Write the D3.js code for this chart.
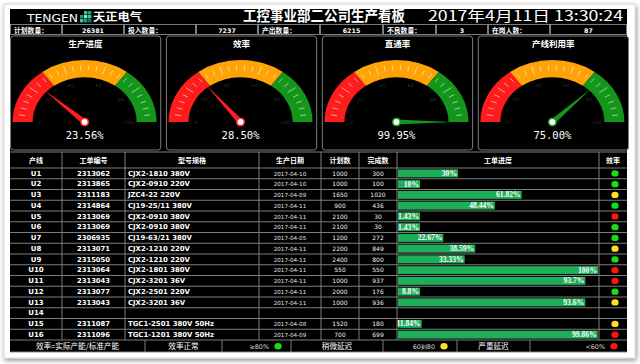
<!DOCTYPE html>
<html>
<head>
<meta charset="utf-8">
<style>
body { margin:0; background:#fff; }
svg { display:block; }
.cjk { font-family:"Noto Sans CJK SC", sans-serif; }
</style>
</head>
<body>
<svg width="640" height="364"></svg>
<script src="https://cdn.jsdelivr.net/npm/d3@7"></script>
<script>
// 看板数据
var statLabels = ["计划数量：", "投入数量：", "产出数量：", "不良数量：", "在岗人数："];
var statValues = [26381, 7237, 6215, 3, 87];

var gaugeNames = ["生产进度", "效率", "直通率", "产线利用率"];
var gaugeValues = [23.56, 28.50, 99.95, 75.00];
var zoneStops = [30, 70, 100];
var zoneColors = ["#ff1c1c", "#ffa306", "#13961a"];
var gaugeTicks = [0, 20, 40, 60, 80, 100];

var lines = ["U1","U2","U3","U4","U5","U6","U7","U8","U9","U10","U11","U12","U13","U14","U15","U16"];
var orders = ["2313062","2313865","2311183","2314864","2313069","2313069","2306935","2313071","2315050","2313064","2313043","2313077","2313043","","2311087","2311096"];
var models = ["CJX2-1810 380V","CJX2-0910 220V","JZC4-22 220V","CJ19-25/11 380V","CJX2-0910 380V","CJX2-0910 380V","CJ19-63/21 380V","CJX2-1210 220V","CJX2-1210 220V","CJX2-1801 380V","CJX2-3201 36V","CJX2-2501 220V","CJX2-3201 36V","","TGC1-2501 380V 50Hz","TGC1-1201 380V 50Hz"];
var dates = ["2017-04-10","2017-04-10","2017-04-09","2017-04-11","2017-04-11","2017-04-11","2017-04-05","2017-04-11","2017-04-11","2017-04-11","2017-04-11","2017-04-11","2017-04-11","","2017-04-08","2017-04-09"];
var plans = ["1000","1000","1650","900","2100","2100","1200","2200","2400","550","1000","2000","1000","","1520","700"];
var dones = ["300","100","1020","436","30","30","272","849","800","550","937","176","936","","180","699"];
var progress = [30, 10, 61.82, 48.44, 1.43, 1.43, 22.67, 38.59, 33.33, 100, 93.7, 8.8, 93.6, null, 11.84, 99.86];
var effStatus = ["ok","ok","mid","ok","bad","ok","ok","mid","ok","bad","bad","ok","mid",null,"mid","bad"];

var headers = ["产线","工单编号","型号规格","生产日期","计划数","完成数","工单进度","效率"];
var colEdges = [10, 62, 125, 259, 321, 359, 397, 599, 627];
var statusColor = {ok:"#14e01a", mid:"#ffe01a", bad:"#ff1414"};

var svg = d3.select("svg");
var grid = "#8a8a8a";

// 外框与黑底
var defs = svg.append("defs");
var f = defs.append("filter").attr("id","sh").attr("x",-0.05).attr("y",-0.05).attr("width",1.1).attr("height",1.1);
f.append("feGaussianBlur").attr("in","SourceAlpha").attr("stdDeviation",2.5);
f.append("feOffset").attr("dx",1).attr("dy",1.5).attr("result","b");
f.append("feComponentTransfer").append("feFuncA").attr("type","linear").attr("slope",0.45);
var fm = f.append("feMerge"); fm.append("feMergeNode"); fm.append("feMergeNode").attr("in","SourceGraphic");

svg.append("rect").attr("x",4).attr("y",4).attr("width",631).attr("height",354)
  .attr("fill","#fff").attr("stroke","#d8d8d8").attr("filter","url(#sh)");
svg.append("rect").attr("x",10).attr("y",9).attr("width",617).attr("height",343).attr("fill","#000");

// 标题行
svg.append("text").attr("x",27).attr("y",21.5).attr("fill","#fff")
  .style("font-family","DejaVu Sans").style("font-size","11px")
  .attr("textLength",51).attr("lengthAdjust","spacingAndGlyphs").text("TENGEN");
var logo = svg.append("g").attr("transform","translate(80,11)");
[[4,0,"#2fc7a8"],[8,0,"#1fa070"],[0,4,"#1fa070"],[4,4,"#8ee8d0"],[8,4,"#2fc7a8"],[0,8,"#2fc7a8"],[4,8,"#1fa070"],[8,8,"#0d7d50"]]
  .forEach(function(s){ logo.append("rect").attr("x",s[0]).attr("y",s[1]).attr("width",3.4).attr("height",3.4).attr("fill",s[2]); });
svg.append("text").attr("class","cjk").attr("x",93).attr("y",21.2).attr("fill","#fff")
  .style("font-size","11px").style("font-weight","bold")
  .attr("textLength",49).attr("lengthAdjust","spacingAndGlyphs").text("天正电气");
svg.append("text").attr("class","cjk").attr("x",243).attr("y",20.8).attr("fill","#fff")
  .style("font-size","14.5px").style("font-weight","bold")
  .attr("textLength",162).attr("lengthAdjust","spacingAndGlyphs").text("工控事业部二公司生产看板");
svg.append("text").attr("class","cjk").attr("x",428).attr("y",20.8).attr("fill","#fff")
  .style("font-size","14px")
  .attr("textLength",195).attr("lengthAdjust","spacingAndGlyphs").text("2017年4月11日 13:30:24");

// 统计行
var statEdges = [10, 62, 124, 196, 258, 320, 383, 436, 488, 550, 627];
var statCells = [];
statLabels.forEach(function(l,i){ statCells.push({t:l, cjk:true}); statCells.push({t:String(statValues[i]), cjk:false}); });
var sg = svg.append("g");
sg.selectAll("rect").data(statCells).enter().append("rect")
  .attr("x",function(d,i){ return statEdges[i]+0.5; }).attr("y",24.5)
  .attr("width",function(d,i){ return statEdges[i+1]-statEdges[i]-1; }).attr("height",10)
  .attr("fill","#000").attr("stroke","#9a9a9a").attr("stroke-width",0.8);
sg.selectAll("text").data(statCells).enter().append("text")
  .attr("x",function(d,i){ return d.cjk ? statEdges[i]+4 : (statEdges[i]+statEdges[i+1])/2; })
  .attr("y",32.8).attr("text-anchor",function(d){ return d.cjk ? "start" : "middle"; })
  .attr("fill","#fff").style("font-weight","bold")
  .style("font-family",function(d){ return d.cjk ? "Noto Sans CJK SC" : "DejaVu Sans"; })
  .style("font-size",function(d){ return d.cjk ? "6.8px" : "6.3px"; })
  .text(function(d){ return d.t; });

// 仪表盘
var px = d3.scaleBand().domain(gaugeNames).range([10, 629]).paddingInner(0.03);
var ang = d3.scaleLinear().domain([0,100]).range([-Math.PI/2, Math.PI/2]);
var rOut = 72, rIn = 52, yS = 0.86, cy = 122;
function zoneOf(v){ for (var k=0;k<zoneStops.length;k++){ if (v<=zoneStops[k]) return k; } return zoneStops.length-1; }

gaugeNames.forEach(function(name, gi){
  var x0 = px(name), bw = px.bandwidth();
  var g = svg.append("g");
  g.append("rect").attr("x",x0+0.5).attr("y",36).attr("width",bw-1).attr("height",114)
    .attr("rx",3).attr("fill","#000").attr("stroke","#7a7a7a").attr("stroke-width",1);
  g.append("text").attr("class","cjk").attr("x",x0+bw/2).attr("y",46.5).attr("text-anchor","middle")
    .attr("fill","#fff").style("font-size","8.5px").style("font-weight","bold").text(name);

  var cx = x0 + bw/2 - 1;
  var gg = g.append("g").attr("transform","translate("+cx+","+cy+") scale(1,"+yS+")");
  var prev = 0;
  zoneStops.forEach(function(s,k){
    gg.append("path").attr("d", d3.arc().innerRadius(rIn).outerRadius(rOut)
      .startAngle(ang(prev)).endAngle(ang(s))()).attr("fill", zoneColors[k]);
    prev = s;
  });
  // 刻度
  d3.range(0, 101, 4).forEach(function(t){
    var a = ang(t), major = (t % 20 === 0);
    var r1 = major ? rIn+6 : rIn+8, r2 = major ? rOut-4 : rOut-6;
    if (t === 0 || t === 100) return;
    gg.append("line")
      .attr("x1",Math.sin(a)*r1).attr("y1",-Math.cos(a)*r1)
      .attr("x2",Math.sin(a)*r2).attr("y2",-Math.cos(a)*r2)
      .attr("stroke","#fff").attr("stroke-opacity",0.75).attr("stroke-width",0.8);
  });
  gaugeTicks.forEach(function(t){
    var a = ang(t), r = rIn - 7;
    gg.append("text").attr("x",Math.sin(a)*r).attr("y",-Math.cos(a)*r+2)
      .attr("text-anchor","middle").attr("fill","#2c2c2c")
      .style("font-family","DejaVu Sans").style("font-size","5px").text(t);
  });
  // 指针
  var v = gaugeValues[gi], a = ang(v), col = zoneColors[zoneOf(v)], L = 55, w = 3;
  var tip = [Math.sin(a)*L, -Math.cos(a)*L];
  var p1 = [Math.cos(a)*w, Math.sin(a)*w], p2 = [-Math.cos(a)*w, -Math.sin(a)*w];
  gg.append("path").attr("d","M"+p1+"L"+tip+"L"+p2+"Z").attr("fill",col);
  g.append("circle").attr("cx",cx).attr("cy",cy).attr("r",4.6).attr("fill",col);
  g.append("circle").attr("cx",cx).attr("cy",cy).attr("r",3).attr("fill","#fff");
  g.append("text").attr("x",cx).attr("y",138.5).attr("text-anchor","middle").attr("fill","#fff")
    .style("font-family","DejaVu Sans Mono").style("font-size","10.5px")
    .text(v.toFixed(2) + "%");
});

// 表格
var tTop = 152, hBottom = 168, tBottom = 340, fBottom = 352;
var y = d3.scaleBand().domain(lines).range([hBottom, tBottom]);
var xBar = d3.scaleLinear().domain([0,100]).range([colEdges[6]+1, colEdges[7]-1]);
var tg = svg.append("g");

// 表头
tg.selectAll("text.h").data(headers).enter().append("text").attr("class","h cjk")
  .attr("x",function(d,i){ return (colEdges[i]+colEdges[i+1])/2; }).attr("y",162.5)
  .attr("text-anchor","middle").attr("fill","#fff")
  .style("font-size","7px").style("font-weight","bold").text(function(d){ return d; });

// 进度条
var rows = lines.map(function(l,i){
  return {line:l, order:orders[i], model:models[i], date:dates[i], plan:plans[i], done:dones[i], pct:progress[i], eff:effStatus[i]};
});
var minW = 22;
var bars = tg.selectAll("g.bar").data(rows.filter(function(d){ return d.pct !== null; })).enter().append("g");
bars.append("rect")
  .attr("x",xBar(0)).attr("y",function(d){ return y(d.line)+1.4; })
  .attr("width",function(d){ return Math.max(xBar(d.pct)-xBar(0), minW); })
  .attr("height",y.bandwidth()-2.8).attr("fill","#1ead58");
bars.append("text")
  .attr("x",function(d){ return xBar(0) + Math.max(xBar(d.pct)-xBar(0), minW) - 1; })
  .attr("y",function(d){ return y(d.line)+y.bandwidth()/2+2.6; })
  .attr("text-anchor","end").attr("fill","#fff")
  .style("font-family","Liberation Serif").style("font-weight","bold").style("font-size","7.6px")
  .text(function(d){ return d.pct + "%"; });

// 单元格文字
function cell(key, col, opts){
  tg.selectAll("text."+key).data(rows).enter().append("text").attr("class",key)
    .attr("x", opts.left ? colEdges[col]+3 : (colEdges[col]+colEdges[col+1])/2)
    .attr("y", function(d){ return y(d.line)+y.bandwidth()/2+2.3; })
    .attr("text-anchor", opts.left ? "start" : "middle")
    .attr("fill", opts.color || "#fff")
    .style("font-family","DejaVu Sans").style("font-size", opts.size)
    .style("font-weight", opts.bold ? "bold" : "normal")
    .text(function(d){ return d[key]; });
}
cell("line", 0, {size:"7px", bold:true});
cell("order", 1, {size:"6.8px", bold:true});
cell("model", 2, {size:"6.9px", bold:true, left:true});
cell("date", 3, {size:"5.6px", color:"#e4e4e4"});
cell("plan", 4, {size:"6px", color:"#f0f0f0"});
cell("done", 5, {size:"6px", color:"#f0f0f0"});
tg.selectAll("ellipse.eff").data(rows.filter(function(d){ return d.eff; })).enter().append("ellipse")
  .attr("cx",(colEdges[7]+colEdges[8])/2+2).attr("cy",function(d){ return y(d.line)+y.bandwidth()/2; })
  .attr("rx",3.6).attr("ry",3.2).attr("fill",function(d){ return statusColor[d.eff]; });

// 网格线
var hl = [tTop].concat(lines.map(function(l){ return y(l); })).concat([tBottom, fBottom]);
tg.selectAll("line.hl").data(hl).enter().append("line")
  .attr("x1",10).attr("x2",627).attr("y1",function(d){ return d; }).attr("y2",function(d){ return d; })
  .attr("stroke",grid).attr("stroke-width",0.9);
tg.selectAll("line.vl").data(colEdges.slice(1,-1)).enter().append("line")
  .attr("x1",function(d){ return d; }).attr("x2",function(d){ return d; })
  .attr("y1",tTop).attr("y2",tBottom).attr("stroke",grid).attr("stroke-width",0.9);

// 底部图例
var footEdges = [10, 145, 222, 291, 383, 457, 530, 627];
var footTexts = [
  {t:"效率=实际产能/标准产能", cjk:true},
  {t:"效率正常", cjk:true},
  {t:"≥80%", cjk:false, dot:"ok"},
  {t:"稍微延迟", cjk:true},
  {t:"60到80", cjk:false, dot:"mid"},
  {t:"严重延迟", cjk:true},
  {t:"<60%", cjk:false, dot:"bad"}
];
tg.selectAll("line.fl").data(footEdges.slice(1,-1)).enter().append("line")
  .attr("x1",function(d){ return d; }).attr("x2",function(d){ return d; })
  .attr("y1",tBottom).attr("y2",fBottom).attr("stroke",grid).attr("stroke-width",0.9);
footTexts.forEach(function(d,i){
  var a = footEdges[i], b = footEdges[i+1];
  tg.append("text").attr("x", d.dot ? b-22 : (a+b)/2).attr("y",348.8)
    .attr("text-anchor", d.dot ? "end" : "middle").attr("fill", d.cjk ? "#fff" : "#dcdcdc")
    .style("font-family", d.cjk ? "Noto Sans CJK SC" : "DejaVu Sans")
    .style("font-size", d.cjk ? "7.6px" : "6.4px").text(d.t);
  if (d.dot) tg.append("ellipse").attr("cx",b-13).attr("cy",346.2).attr("rx",3.6).attr("ry",3.2)
    .attr("fill",statusColor[d.dot]);
});
</script>
</body>
</html>
